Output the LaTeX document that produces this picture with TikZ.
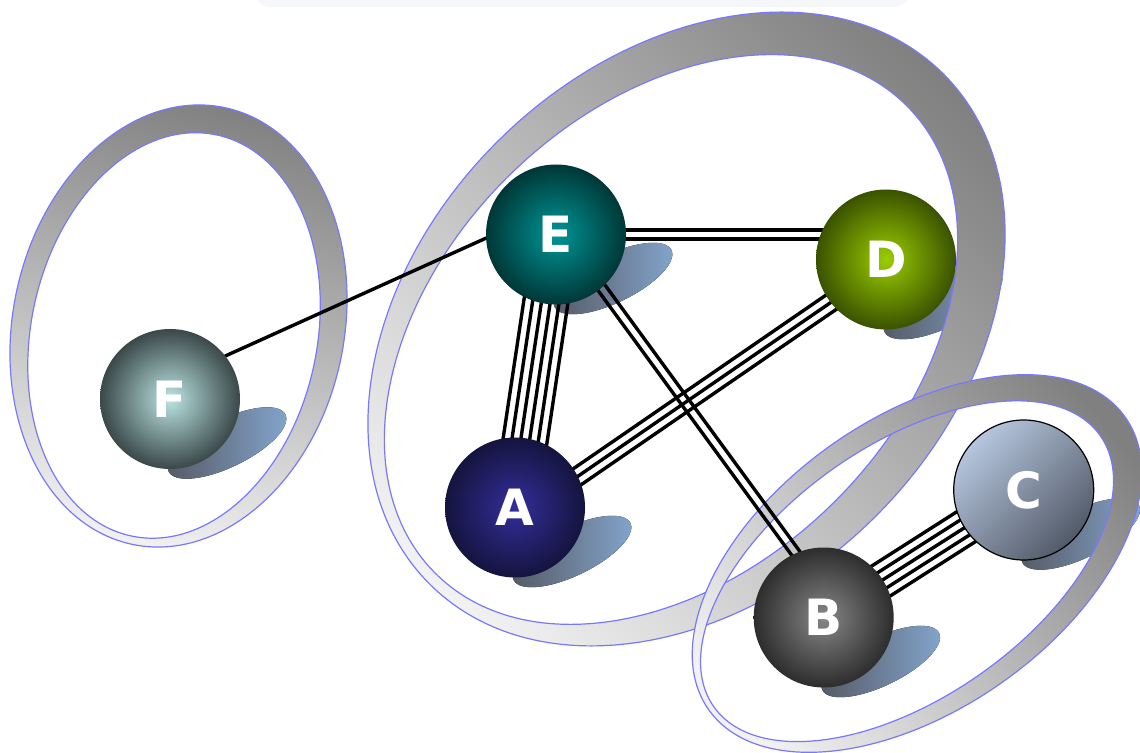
\documentclass[tikz,border=0pt]{standalone}
\usepackage{fontspec}
\usetikzlibrary{calc,positioning}
\newfontfamily\ballfont{DejaVu Sans}
\definecolor{ringdark}{RGB}{128,128,128}
\definecolor{ringlight}{RGB}{242,242,242}
\definecolor{ringline}{RGB}{120,120,255}
\definecolor{shadowblue}{RGB}{132,166,206}
\definecolor{shadowgray}{RGB}{85,88,98}
\definecolor{topbox}{RGB}{246,247,250}
\definecolor{Ein}{RGB}{0,150,150}\definecolor{Eout}{RGB}{0,55,55}
\definecolor{Din}{RGB}{155,205,0}\definecolor{Dout}{RGB}{58,82,0}
\definecolor{Ain}{RGB}{52,46,155}\definecolor{Aout}{RGB}{20,20,62}
\definecolor{Fin}{RGB}{188,228,228}\definecolor{Fout}{RGB}{58,72,72}
\definecolor{Bin}{RGB}{135,135,135}\definecolor{Bout}{RGB}{45,45,45}
\definecolor{Clight}{RGB}{182,198,222}\definecolor{Cdark}{RGB}{82,90,104}
\pgfdeclarelayer{shadows}
\pgfdeclarelayer{rings}
\pgfdeclarelayer{links}
\pgfsetlayers{shadows,rings,links,main}
\tikzset{
  ball/.style={circle, minimum size=70pt, inner sep=0pt, text=white, font=\ballfont\bfseries\fontsize{25}{30}\selectfont},
  ring/.style={draw=ringline, line width=0.6pt, even odd rule, top color=ringdark, bottom color=ringlight},
  link/.style={line width=1.7pt, black},
  dropshadow/.style={left color=shadowgray, right color=shadowblue}
}
\newcommand{\links}[3]{%
  \foreach \k in {1,...,#3}{
    \pgfmathsetmacro{\off}{(\k-(#3+1)/2)*4.4}
    \draw[link] ($(#1)!\off pt!90:(#2)$) -- ($(#2)!\off pt!-90:(#1)$);
  }}

\begin{document}
\begin{tikzpicture}[x=0.5pt,y=-0.5pt]
\useasboundingbox (0,0) rectangle (1140,753);
\fill[topbox, rounded corners=8pt] (255,-30) rectangle (910,7);

\node[ball, inner color=Ein, outer color=Eout] (E) at (556,234.5) {E};
\node[ball, inner color=Din, outer color=Dout] (D) at (886,259.5) {D};
\node[ball, inner color=Ain, outer color=Aout] (A) at (515,507.5) {A};
\node[ball, inner color=Fin, outer color=Fout] (F) at (170,399) {F};
\node[ball, inner color=Bin, outer color=Bout] (B) at (823.7,617.5) {B};
\node[ball, draw=black, line width=0.6pt, top color=Clight, bottom color=Cdark, shading angle=45] (C) at (1023.7,490) {C};

\coordinate (Ef) at ($(E)+(0,-28)$);
\coordinate (Fe) at ($(F)+(0,-18)$);
\coordinate (De) at ($(D)+(0,-25)$);
\coordinate (Eb) at ($(E)+(0,-9)$);
\coordinate (Be) at ($(B)+(0,-26)$);
\coordinate (Ad) at ($(A)+(0,12)$);
\coordinate (Da) at ($(D)+(0,5)$);

\begin{pgfonlayer}{rings}
\begin{scope}[shift={(178.5,326)}, rotate=-12]
  \path[ring, shading angle=-15] (0,0) ellipse [x radius=165.6, y radius=223.2] (-2.4,10.2) ellipse [x radius=143, y radius=205];
\end{scope}
\begin{scope}[shift={(686.5,329)}, rotate=44.5]
  \path[ring, shading angle=-45] (0,0) ellipse [x radius=362, y radius=266.2] (-18.4,-3.4) ellipse [x radius=332, y radius=230.4];
\end{scope}
\begin{scope}[shift={(917,563.5)}, rotate=35]
  \path[ring, shading angle=-50] (0,0) ellipse [x radius=254.5, y radius=146.2] (-12.6,0.6) ellipse [x radius=236, y radius=126.3];
\end{scope}
\end{pgfonlayer}

\begin{pgfonlayer}{shadows}
\foreach \n in {A,B,C,D,E,F}{
  \begin{scope}[shift={($(\n)+(57,44)$)}, rotate=26]
    \fill[dropshadow] (0,0) ellipse [x radius=65, y radius=24];
  \end{scope}
}
\end{pgfonlayer}

\begin{pgfonlayer}{links}
\links{Fe}{Ef}{1}
\links{E}{De}{2}
\links{E}{A}{6}
\links{Ad}{Da}{3}
\links{Eb}{Be}{2}
\links{B}{C}{5}
\end{pgfonlayer}
\end{tikzpicture}
\end{document}
